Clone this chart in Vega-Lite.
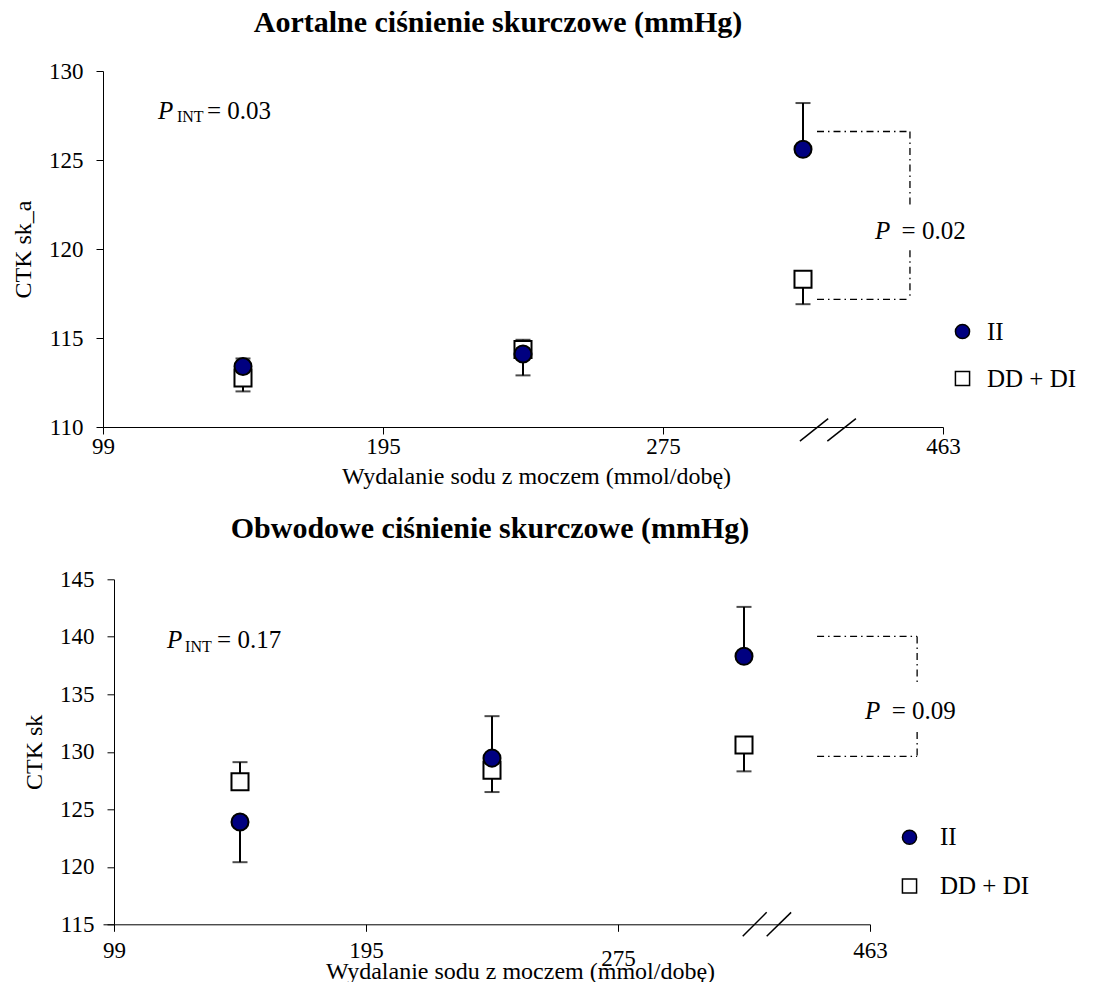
{
  "$schema": "https://vega.github.io/schema/vega-lite/v6.json",
  "padding": {"left": 11, "top": 8, "right": 5, "bottom": 0},
  "background": "white",
  "datasets": {
    "pts": [
      {"panel": "A", "x": 0.5, "group": "DD + DI", "y": 112.75, "e": 112.0},
      {"panel": "A", "x": 1.5, "group": "DD + DI", "y": 114.35, "e": 112.9},
      {"panel": "A", "x": 2.5, "group": "DD + DI", "y": 118.3, "e": 116.9},
      {"panel": "A", "x": 0.5, "group": "II", "y": 113.4, "e": 113.85},
      {"panel": "A", "x": 1.5, "group": "II", "y": 114.1, "e": 114.9},
      {"panel": "A", "x": 2.5, "group": "II", "y": 125.6, "e": 128.2},
      {"panel": "B", "x": 0.5, "group": "DD + DI", "y": 127.4, "e": 129.1},
      {"panel": "B", "x": 1.5, "group": "DD + DI", "y": 128.4, "e": 126.5},
      {"panel": "B", "x": 2.5, "group": "DD + DI", "y": 130.6, "e": 128.3},
      {"panel": "B", "x": 0.5, "group": "II", "y": 123.9, "e": 120.4},
      {"panel": "B", "x": 1.5, "group": "II", "y": 129.45, "e": 133.1},
      {"panel": "B", "x": 2.5, "group": "II", "y": 138.3, "e": 142.6}
    ],
    "lines": [
      {"panel": "A", "kind": "dash", "x": 2.55, "y": 126.6, "x2": 2.882, "y2": 126.6},
      {"panel": "A", "kind": "dash", "x": 2.55, "y": 117.17, "x2": 2.882, "y2": 117.17},
      {"panel": "A", "kind": "dash", "x": 2.882, "y": 126.6, "x2": 2.882, "y2": 122.45},
      {"panel": "A", "kind": "dash", "x": 2.882, "y": 119.93, "x2": 2.882, "y2": 117.17},
      {"panel": "A", "kind": "slash", "x": 2.489, "y": 109.21, "x2": 2.59, "y2": 110.47},
      {"panel": "A", "kind": "slash", "x": 2.587, "y": 109.21, "x2": 2.689, "y2": 110.47},
      {"panel": "B", "kind": "dash", "x": 2.79, "y": 140.03, "x2": 3.187, "y2": 140.03},
      {"panel": "B", "kind": "dash", "x": 2.79, "y": 129.61, "x2": 3.187, "y2": 129.61},
      {"panel": "B", "kind": "dash", "x": 3.187, "y": 140.03, "x2": 3.187, "y2": 135.77},
      {"panel": "B", "kind": "dash", "x": 3.187, "y": 131.73, "x2": 3.187, "y2": 129.61},
      {"panel": "B", "kind": "slash", "x": 2.495, "y": 113.96, "x2": 2.59, "y2": 116.04},
      {"panel": "B", "kind": "slash", "x": 2.59, "y": 113.96, "x2": 2.687, "y2": 116.04}
    ],
    "notes": [
      {"panel": "A", "kind": "italic", "x": 0.196, "y": 127.33, "text": "P"},
      {"panel": "A", "kind": "sub", "x": 0.264, "y": 127.13, "text": "INT"},
      {"panel": "A", "kind": "normal", "x": 0.371, "y": 127.33, "text": "= 0.03"},
      {"panel": "A", "kind": "italic", "x": 2.757, "y": 120.58, "text": "P"},
      {"panel": "A", "kind": "normal", "x": 2.852, "y": 120.58, "text": "= 0.02"},
      {"panel": "B", "kind": "italic", "x": 0.21, "y": 138.99, "text": "P"},
      {"panel": "B", "kind": "sub", "x": 0.282, "y": 138.69, "text": "INT"},
      {"panel": "B", "kind": "normal", "x": 0.409, "y": 138.99, "text": "= 0.17"},
      {"panel": "B", "kind": "italic", "x": 2.98, "y": 132.81, "text": "P"},
      {"panel": "B", "kind": "normal", "x": 3.086, "y": 132.81, "text": "= 0.09"}
    ]
  },
  "concat": [
    {
      "width": 840,
      "height": 356,
      "title": {"text": "Aortalne ciśnienie skurczowe (mmHg)", "font": "Liberation Serif", "fontSize": 30, "fontWeight": "bold", "color": "black", "anchor": "middle", "frame": "group", "dx": -25, "offset": -2, "baseline": "alphabetic"},
      "encoding": {
        "x": {"field": "x", "type": "quantitative", "scale": {"domain": [0, 3], "nice": false, "zero": false},
          "axis": {"values": [0, 1, 2, 3], "labelExpr": "['99','195','275','463'][datum.value]", "title": "Wydalanie sodu z moczem (mmol/dobę)", "titleX": 433, "titleY": 56, "titleBaseline": "alphabetic", "labelBaseline": "alphabetic", "labelPadding": 19.6}},
        "y": {"field": "y", "type": "quantitative", "title": "CTK sk_a", "scale": {"domain": [110, 130], "nice": false, "zero": false},
          "axis": {"values": [110, 115, 120, 125, 130], "titlePadding": 13}}
      },
      "layer": [
        {"data": {"name": "lines"}, "transform": [{"filter": "datum.panel == 'A' && datum.kind == 'dash'"}],
          "mark": {"type": "rule", "color": "black", "strokeWidth": 1.3, "strokeDash": [7, 4, 1.5, 4]},
          "encoding": {"x2": {"field": "x2"}, "y2": {"field": "y2"}}},
        {"data": {"name": "lines"}, "transform": [{"filter": "datum.panel == 'A' && datum.kind == 'slash'"}],
          "mark": {"type": "rule", "color": "black", "strokeWidth": 1.5},
          "encoding": {"x2": {"field": "x2"}, "y2": {"field": "y2"}}},
        {"data": {"name": "pts"}, "transform": [{"filter": "datum.panel == 'A'"}],
          "mark": {"type": "rule", "color": "black", "strokeWidth": 2},
          "encoding": {"y2": {"field": "e"}}},
        {"data": {"name": "pts"}, "transform": [{"filter": "datum.panel == 'A'"}],
          "mark": {"type": "tick", "orient": "horizontal", "color": "black", "thickness": 2, "size": 15},
          "encoding": {"y": {"field": "e", "type": "quantitative", "title": "CTK sk_a"}}},
        {"data": {"name": "pts"}, "transform": [{"filter": "datum.panel == 'A'"}],
          "mark": {"type": "point", "filled": true, "strokeWidth": 2, "size": 290, "opacity": 1},
          "encoding": {
            "fill": {"field": "group", "type": "nominal", "scale": {"domain": ["II", "DD + DI"], "range": ["#000080", "#ffffff"]},
              "legend": {"orient": "none", "legendX": 847, "legendY": 248, "title": null, "labelFont": "Liberation Serif", "labelFontSize": 25, "labelColor": "black", "symbolSize": 200, "symbolStrokeWidth": 1.5, "labelOffset": 12, "rowPadding": 21, "padding": 0}},
            "stroke": {"field": "group", "type": "nominal", "scale": {"domain": ["II", "DD + DI"], "range": ["#000000", "#000000"]},
              "legend": {"orient": "none", "legendX": 847, "legendY": 248, "title": null, "labelFont": "Liberation Serif", "labelFontSize": 25, "labelColor": "black", "symbolSize": 200, "symbolStrokeWidth": 1.5, "labelOffset": 12, "rowPadding": 21, "padding": 0}},
            "shape": {"field": "group", "type": "nominal", "scale": {"domain": ["II", "DD + DI"], "range": ["circle", "square"]},
              "legend": {"orient": "none", "legendX": 847, "legendY": 248, "title": null, "labelFont": "Liberation Serif", "labelFontSize": 25, "labelColor": "black", "symbolSize": 200, "symbolStrokeWidth": 1.5, "labelOffset": 12, "rowPadding": 21, "padding": 0}}
          }},
        {"data": {"name": "notes"}, "transform": [{"filter": "datum.panel == 'A' && datum.kind == 'italic'"}],
          "mark": {"type": "text", "font": "Liberation Serif", "fontSize": 25, "fontStyle": "italic", "align": "left", "baseline": "alphabetic", "color": "black"},
          "encoding": {"text": {"field": "text"}}},
        {"data": {"name": "notes"}, "transform": [{"filter": "datum.panel == 'A' && datum.kind == 'sub'"}],
          "mark": {"type": "text", "font": "Liberation Serif", "fontSize": 16, "align": "left", "baseline": "alphabetic", "color": "black"},
          "encoding": {"text": {"field": "text"}}},
        {"data": {"name": "notes"}, "transform": [{"filter": "datum.panel == 'A' && datum.kind == 'normal'"}],
          "mark": {"type": "text", "font": "Liberation Serif", "fontSize": 25, "align": "left", "baseline": "alphabetic", "color": "black"},
          "encoding": {"text": {"field": "text"}}}
      ]
    },
    {
      "width": 767,
      "height": 345,
      "title": {"text": "Obwodowe ciśnienie skurczowe (mmHg)", "font": "Liberation Serif", "fontSize": 30, "fontWeight": "bold", "color": "black", "anchor": "middle", "frame": "group", "dx": 3.5, "offset": 0.2, "baseline": "alphabetic"},
      "encoding": {
        "x": {"field": "x", "type": "quantitative", "scale": {"domain": [-0.04365, 3], "nice": false, "zero": false},
          "axis": {"values": [0, 1, 2, 3], "labelExpr": "['99','195','275','463'][datum.value]", "title": "Wydalanie sodu z moczem (mmol/dobę)", "titleX": 417, "titleY": 54, "titleBaseline": "alphabetic", "labelBaseline": "alphabetic", "labelPadding": {"condition": {"test": "datum.value == 2", "value": 34}, "value": 26}}},
        "y": {"field": "y", "type": "quantitative", "title": "CTK sk", "scale": {"domain": [115, 145], "nice": false, "zero": false},
          "axis": {"values": [115, 120, 125, 130, 135, 140, 145], "titlePadding": 13, "offset": -11}}
      },
      "layer": [
        {"data": {"name": "lines"}, "transform": [{"filter": "datum.panel == 'B' && datum.kind == 'dash'"}],
          "mark": {"type": "rule", "color": "black", "strokeWidth": 1.3, "strokeDash": [7, 4, 1.5, 4]},
          "encoding": {"x2": {"field": "x2"}, "y2": {"field": "y2"}}},
        {"data": {"name": "lines"}, "transform": [{"filter": "datum.panel == 'B' && datum.kind == 'slash'"}],
          "mark": {"type": "rule", "color": "black", "strokeWidth": 1.5},
          "encoding": {"x2": {"field": "x2"}, "y2": {"field": "y2"}}},
        {"data": {"name": "pts"}, "transform": [{"filter": "datum.panel == 'B'"}],
          "mark": {"type": "rule", "color": "black", "strokeWidth": 2},
          "encoding": {"y2": {"field": "e"}}},
        {"data": {"name": "pts"}, "transform": [{"filter": "datum.panel == 'B'"}],
          "mark": {"type": "tick", "orient": "horizontal", "color": "black", "thickness": 2, "size": 15},
          "encoding": {"y": {"field": "e", "type": "quantitative", "title": "CTK sk"}}},
        {"data": {"name": "pts"}, "transform": [{"filter": "datum.panel == 'B'"}],
          "mark": {"type": "point", "filled": true, "strokeWidth": 2, "size": 290, "opacity": 1},
          "encoding": {
            "fill": {"field": "group", "type": "nominal", "scale": {"domain": ["II", "DD + DI"], "range": ["#000080", "#ffffff"]},
              "legend": {"orient": "none", "legendX": 794, "legendY": 245.5, "title": null, "labelFont": "Liberation Serif", "labelFontSize": 25, "labelColor": "black", "symbolSize": 200, "symbolStrokeWidth": 1.5, "labelOffset": 18, "rowPadding": 22.7, "padding": 0}},
            "stroke": {"field": "group", "type": "nominal", "scale": {"domain": ["II", "DD + DI"], "range": ["#000000", "#000000"]},
              "legend": {"orient": "none", "legendX": 794, "legendY": 245.5, "title": null, "labelFont": "Liberation Serif", "labelFontSize": 25, "labelColor": "black", "symbolSize": 200, "symbolStrokeWidth": 1.5, "labelOffset": 18, "rowPadding": 22.7, "padding": 0}},
            "shape": {"field": "group", "type": "nominal", "scale": {"domain": ["II", "DD + DI"], "range": ["circle", "square"]},
              "legend": {"orient": "none", "legendX": 794, "legendY": 245.5, "title": null, "labelFont": "Liberation Serif", "labelFontSize": 25, "labelColor": "black", "symbolSize": 200, "symbolStrokeWidth": 1.5, "labelOffset": 18, "rowPadding": 22.7, "padding": 0}}
          }},
        {"data": {"name": "notes"}, "transform": [{"filter": "datum.panel == 'B' && datum.kind == 'italic'"}],
          "mark": {"type": "text", "font": "Liberation Serif", "fontSize": 25, "fontStyle": "italic", "align": "left", "baseline": "alphabetic", "color": "black"},
          "encoding": {"text": {"field": "text"}}},
        {"data": {"name": "notes"}, "transform": [{"filter": "datum.panel == 'B' && datum.kind == 'sub'"}],
          "mark": {"type": "text", "font": "Liberation Serif", "fontSize": 16, "align": "left", "baseline": "alphabetic", "color": "black"},
          "encoding": {"text": {"field": "text"}}},
        {"data": {"name": "notes"}, "transform": [{"filter": "datum.panel == 'B' && datum.kind == 'normal'"}],
          "mark": {"type": "text", "font": "Liberation Serif", "fontSize": 25, "align": "left", "baseline": "alphabetic", "color": "black"},
          "encoding": {"text": {"field": "text"}}}
      ]
    }
  ],
  "columns": 1,
  "align": "none",
  "spacing": 25.3,
  "resolve": {
    "scale": {"x": "independent", "y": "independent", "fill": "independent", "shape": "independent", "stroke": "independent"},
    "legend": {"fill": "independent", "shape": "independent", "stroke": "independent"}
  },
  "config": {
    "view": {"stroke": null},
    "axis": {"grid": false, "labelFont": "Liberation Serif", "labelFontSize": 23, "labelColor": "black", "titleFont": "Liberation Serif", "titleFontSize": 24, "titleFontWeight": "normal", "titleColor": "black", "domainColor": "black", "domainWidth": 1, "tickColor": "black", "tickSize": 7, "tickWidth": 1, "labelPadding": 13, "labelFlush": false, "labelOverlap": false}
  }
}
